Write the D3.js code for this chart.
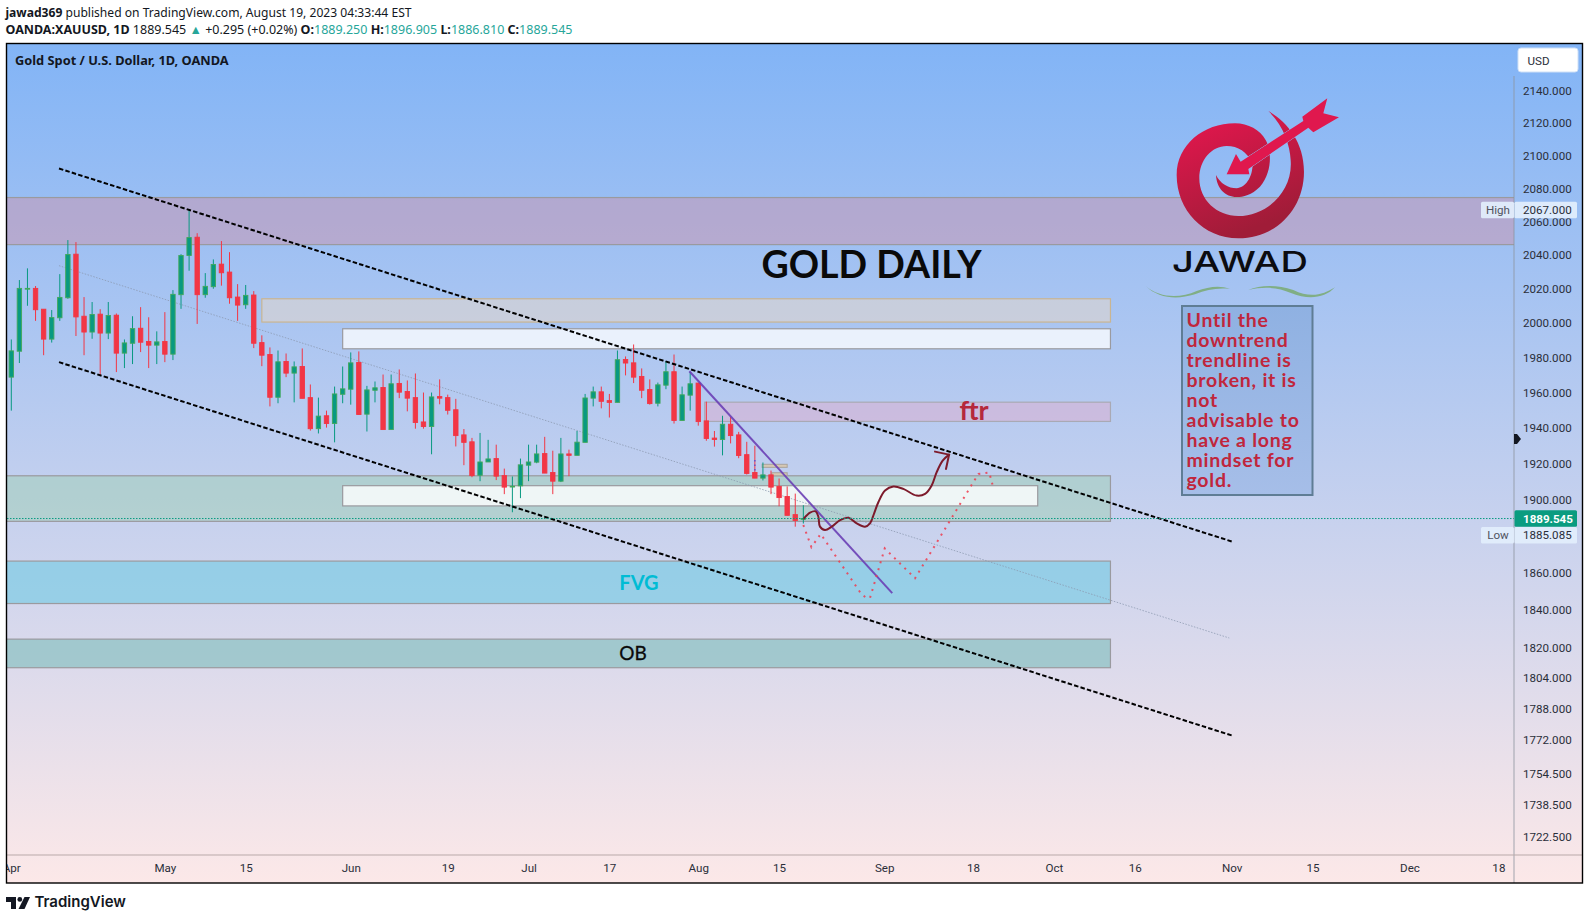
<!DOCTYPE html>
<html>
<head>
<meta charset="utf-8">
<title>XAUUSD</title>
<script src="https://cdn.jsdelivr.net/npm/d3@7"></script>
<style>
	html, body { margin: 0; background: #fff; overflow: hidden; }
	svg { display: block; }
	text { font-family: Roboto, sans-serif; }
	.head { font-family: "Noto Sans", sans-serif; fill: #131722; }
	.axisText text { font-size: 11.6px; fill: #2a2e39; }
</style>
</head>
<body>
<svg id="chart" width="1589" height="920"></svg>
<script>
// daily candles
const opens = [1968.9,1983.8,2020.2,2020.4,2008.2,1990.8,2003.2,2014.9,2040.6,2004.1,
	1994.9,2005.3,1994.3,2004.7,1982.7,1988.4,1997.1,1989.4,1987.3,1989.4,
	1982.1,2016.7,2039.8,2050.7,2016.7,2021.4,2034.7,2030,2015.3,2010.8,
	2016.5,1988.8,1981.9,1957.4,1977.9,1971.2,1975,1957.2,1939.6,1946.9,
	1942.5,1959.1,1962,1977.3,1947.8,1961.4,1963,1939.1,1965.3,1960.7,
	1957.2,1943.4,1940.8,1957.8,1957.2,1950.3,1936.1,1932.2,1913.5,1920.9,
	1922.8,1913.3,1907.1,1907.6,1919.1,1920.8,1925.6,1915,1910.2,1925.4,
	1924.6,1931.9,1956.9,1960.5,1955.5,1954.5,1979,1977.1,1969.3,1961.8,
	1954,1964.3,1972,1944.2,1958.6,1965.5,1944,1934.3,1933.5,1942.1,
	1936.1,1925,1915,1911.9,1913.7,1907.3,1901.7,1891.7,1889.25]
const highs = [1990.6,2025.3,2032.2,2021.8,2008.2,2007.7,2028.8,2049,2047.8,2015.3,
	2012.4,2008.2,2012.4,2005.7,1990.6,2004.1,2009.4,2003.5,1995.3,2006.5,
	2019.4,2040.6,2067,2053.1,2029.4,2037.5,2048.4,2041.8,2022.9,2022.4,
	2018.8,1993,1986,1984.2,1982.5,1977.9,1985.4,1964.7,1957.2,1949.8,
	1963.5,1975,1983.1,1983.7,1963.9,1966.4,1970.4,1970.4,1973.3,1967,
	1971,1960.1,1960.1,1967.6,1958.9,1956.5,1939.4,1934.4,1937.2,1933.3,
	1930.6,1917.2,1912.8,1922.8,1930.6,1930.6,1935,1927.2,1934.4,1927.8,
	1938.3,1959.3,1963.5,1963.5,1959.3,1984.2,1980.8,1987.7,1973.9,1967.6,
	1965.8,1978.1,1981.9,1963.5,1971.8,1965.7,1954.9,1938.3,1946.9,1946.3,
	1937.8,1932.2,1930,1920.6,1916.1,1911.7,1907.3,1903.3,1896.905]
const lows = [1949.8,1977,2010.2,2001.4,1981.5,1988.8,2001.4,2014.3,1992.6,1981.5,
	1991,1969.7,1990.8,1971.8,1974.1,1976.4,1983.3,1974.1,1976.4,1977.5,
	1978.7,2008.4,2030.8,1999.6,2014.9,2020.2,2022,2011.4,2001.4,2008.4,
	1985.6,1975.2,1952.2,1954,1968.9,1954.5,1956.8,1938.5,1936.9,1940.2,
	1931.9,1954,1953.2,1947.6,1938,1954.5,1939.1,1939.1,1956.9,1949.4,
	1939.6,1939.6,1925.2,1953.4,1947.6,1929.6,1919.1,1912.4,1910.2,1920.9,
	1910.8,1903,1893,1900.8,1910.2,1920.2,1914.7,1903,1909.7,1913,
	1924.6,1931.9,1952.2,1951.1,1945.9,1954.5,1969.9,1965.5,1956.9,1953.2,
	1952.2,1962,1942.5,1944.2,1949.8,1941.3,1932.8,1929.5,1924.6,1931.3,
	1923,1913.9,1911.9,1910.6,1903,1896.3,1891.3,1885.085,1886.81]
const closes = [1984,2020.4,2020.4,2007.9,1990.8,2003.3,2015.1,2040.4,2003.7,1994.9,
	2005.1,1994.3,2004.5,1982.7,1988.6,1996.9,1989,1987.3,1989.2,1982.1,
	2016.9,2039.8,2050.5,2016.7,2021.6,2034.5,2029.6,2014.9,2010.6,2016.3,
	1988.4,1981.5,1957.4,1977.7,1971.2,1974.8,1956.8,1939.6,1946.7,1942.5,
	1959.3,1962.2,1977.1,1947.6,1961.6,1962.8,1939.1,1965.1,1960.3,1956.9,
	1943.1,1940.8,1957.6,1956.9,1950,1935.7,1931.9,1913.3,1920.9,1922.6,
	1913,1906.9,1907.4,1919.3,1920.9,1925.4,1914.7,1910.2,1925.4,1924.6,
	1932,1957,1960.5,1955.1,1954.5,1978.9,1977,1968.9,1961.4,1953.8,
	1964.5,1972,1944.2,1958.8,1965.1,1943.6,1934.1,1933.5,1942.1,1935.7,
	1924.5,1914.5,1911.9,1913.7,1906.9,1901.1,1891.3,1888.5,1889.545]

const priceTicks = [2140,2120,2100,2080,2060,2040,2020,2000,1980,1960,1940,1920,1900,1860,1840,1820,1804,1788,1772,1754.5,1738.5,1722.5]
const timeTicks = [0,19,29,42,54,64,74,85,95,108,119,129,139,151,161,173,184]
const timeLabels = ['Apr','May','15','Jun','19','Jul','17','Aug','15','Sep','18','Oct','16','Nov','15','Dec','18']

// drawn zones: bar from, bar to, top price, bottom price, fill, border
const zoneBars = [[-2,186.6],[31,136],[41,136],[85.8,136],[-2,136],[41,127],[-2,136],[-2,136]]
const zonePrices = [[2074.5,2046.3],[2014.3,2000.7],[1996.8,1985.2],[1954.6,1943.7],[1913.2,1888],[1907.7,1896.5],[1866.3,1843.4],[1824.4,1809.3]]
const zoneFills = ['rgba(215,137,155,.4)','rgba(231,216,199,.5)','rgba(255,255,255,.75)','rgba(247,156,187,.3)','rgba(156,206,173,.45)','rgba(255,255,255,.8)','rgba(112,202,227,.6)','rgba(123,188,187,.6)']
const zoneBorders = ['#9a9a9f','#c9b592','#9a9a9f','#a9a9b4','#9a9a9f','#9a9a9f','#9a9a9f','#9a9a9f']
const tanBoxBars = [[92.9,96],[94.1,96]]
const tanBoxPrices = [[1919.6,1917.9],[1914.9,1913.2]]

// trend lines as [bar, price]
const channelTop = [[5.9,2092.1],[151,1877]]
const channelBottom = [[5.9,1977.5],[151,1774]]
const channelMiddle = [[5.9,2033.8],[150.7,1825]]
const purpleLine = [[83.9,1972.3],[109,1849]]
const purpleDots = [[92,1922],[92,1916]]
const redPath = [[98,1886],[99,1873.9],[100.15,1881.1],[105.22,1848.2],[105.84,1846.4],[106.25,1846.4],[108.07,1873.2],[111.82,1857],[119.65,1914.2],[121,1915],[121.4,1908.4]]
const curvePath = [[98.08,1889.6],[98.83,1892.8],[99.53,1893.5],[99.86,1890.5],[100.06,1885.1],[100.68,1883.3],[101.51,1885.1],[102.54,1888.7],[103.57,1890],[104.6,1886.9],[105.63,1885.1],[106.25,1886.9],[106.75,1892.3],[107.28,1898.5],[108.11,1905],[109.14,1907.2],[110.37,1905.9],[112.02,1902.2],[113.06,1903.1],[113.88,1907.8],[114.5,1915.2],[115.24,1921.6],[116.03,1925]]
const arrowHead = [[114.29,1926.7],[116.03,1925],[115.65,1917]]

const noteLines = ['Until the','downtrend','trendline is','broken, it is','not','advisable to','have a long','mindset for','gold.']

const plot = { left: 7, right: 1514, top: 44, bottom: 855, edge: 1582.5, end: 883 }
	, green = '#089981'
	, red = '#f23645'
	, svg = d3.select('#chart')
	, defs = svg.append('defs')

const x = d3.scaleLinear().domain([0, 184]).range([11.3, 11.3 + 8.082 * 184])
const y = d3.scaleLog().domain([1722.5, 2140]).range([836.7, 90.7])

const bg = defs.append('linearGradient').attr('id', 'bg').attr('x1', 0).attr('x2', 0).attr('y1', 0).attr('y2', 1)
bg.append('stop').attr('offset', 0).attr('stop-color', '#82b4f6')
bg.append('stop').attr('offset', 1).attr('stop-color', '#fce8e8')

const logoFill = defs.append('linearGradient').attr('id', 'logoFill').attr('x1', 0).attr('x2', .4).attr('y1', 0).attr('y2', 1)
logoFill.append('stop').attr('offset', 0).attr('stop-color', '#ea1650')
logoFill.append('stop').attr('offset', 1).attr('stop-color', '#a01c38')

const noteFill = defs.append('linearGradient').attr('id', 'noteFill').attr('x1', 0).attr('x2', 0).attr('y1', 0).attr('y2', 1)
noteFill.append('stop').attr('offset', 0).attr('stop-color', '#8fb1e2')
noteFill.append('stop').attr('offset', 1).attr('stop-color', '#a6bee8')

defs.append('clipPath').attr('id', 'plotClip').append('rect')
	.attr('x', plot.left).attr('y', plot.top).attr('width', plot.right - plot.left).attr('height', plot.bottom - plot.top)
defs.append('clipPath').attr('id', 'timeClip').append('rect')
	.attr('x', plot.left).attr('y', plot.bottom).attr('width', plot.right - plot.left).attr('height', plot.end - plot.bottom)

// header
const head1 = svg.append('text').attr('class', 'head').attr('x', 5.5).attr('y', 17).attr('font-size', 12.1)
head1.append('tspan').attr('font-weight', 700).text('jawad369')
head1.append('tspan').text(' published on TradingView.com, August 19, 2023 04:33:44 EST')

const head2 = svg.append('text').attr('class', 'head').attr('x', 5.5).attr('y', 34).attr('font-size', 12.5)
head2.append('tspan').attr('font-weight', 700).text('OANDA:XAUUSD, 1D')
head2.append('tspan').text(' 1889.545 ')
head2.append('tspan').style('fill', '#26a69a').text('▲')
head2.append('tspan').text(' +0.295 (+0.02%) ')
const ohlc = [['O:', '1889.250'], ['H:', '1896.905'], ['L:', '1886.810'], ['C:', '1889.545']]
ohlc.forEach(function (d) {
	head2.append('tspan').attr('font-weight', 700).text(d[0])
	head2.append('tspan').style('fill', '#26a69a').text(d[1] + ' ')
})

// pane background
svg.append('rect').attr('x', plot.left).attr('y', plot.top)
	.attr('width', plot.edge - plot.left).attr('height', plot.end - plot.top).attr('fill', 'url(#bg)')

const pane = svg.append('g').attr('clip-path', 'url(#plotClip)')

// zones
pane.selectAll('rect.zone').data(zoneBars).join('rect')
	.attr('class', 'zone')
	.attr('x', d => x(d[0]))
	.attr('width', d => x(d[1]) - x(d[0]))
	.attr('y', (d, i) => y(zonePrices[i][0]))
	.attr('height', (d, i) => y(zonePrices[i][1]) - y(zonePrices[i][0]))
	.attr('fill', (d, i) => zoneFills[i])
	.attr('stroke', (d, i) => zoneBorders[i])
	.attr('stroke-width', 1.2)

pane.selectAll('rect.tan').data(tanBoxBars).join('rect')
	.attr('class', 'tan')
	.attr('x', d => x(d[0]))
	.attr('width', d => x(d[1]) - x(d[0]))
	.attr('y', (d, i) => y(tanBoxPrices[i][0]))
	.attr('height', (d, i) => y(tanBoxPrices[i][1]) - y(tanBoxPrices[i][0]))
	.attr('fill', '#d6c8b4')
	.attr('stroke', '#a9a39b')

const lineGen = d3.line().x(d => x(d[0])).y(d => y(d[1]))

pane.append('path').attr('d', lineGen(channelMiddle)).attr('fill', 'none')
	.attr('stroke', '#8a97ad').attr('stroke-opacity', .75).attr('stroke-width', 1).attr('stroke-dasharray', '1.5 1.5')

// candles
const candles = pane.selectAll('g.candle').data(opens).join('g').attr('class', 'candle')
candles.append('line')
	.attr('x1', (d, i) => x(i)).attr('x2', (d, i) => x(i))
	.attr('y1', (d, i) => y(highs[i])).attr('y2', (d, i) => y(lows[i]))
	.attr('stroke', (d, i) => closes[i] >= d ? green : red)
	.attr('stroke-width', 1)
candles.append('rect')
	.attr('x', (d, i) => x(i) - 2.2)
	.attr('width', 4.4)
	.attr('y', (d, i) => y(Math.max(d, closes[i])))
	.attr('height', (d, i) => Math.max(.8, Math.abs(y(d) - y(closes[i]))))
	.attr('fill', (d, i) => closes[i] >= d ? green : red)
	.attr('stroke', (d, i) => closes[i] >= d ? '#43a85a' : red)
	.attr('stroke-width', .9)

// trend lines and the drawn paths
pane.append('path').attr('d', lineGen(channelTop)).attr('fill', 'none')
	.attr('stroke', '#000').attr('stroke-width', 2).attr('stroke-dasharray', '4.5 2.2')
pane.append('path').attr('d', lineGen(channelBottom)).attr('fill', 'none')
	.attr('stroke', '#000').attr('stroke-width', 2).attr('stroke-dasharray', '4.5 2.2')
pane.append('path').attr('d', lineGen(purpleLine)).attr('fill', 'none')
	.attr('stroke', '#6a3fb5').attr('stroke-opacity', .9).attr('stroke-width', 2)
pane.append('path').attr('d', lineGen(purpleDots)).attr('fill', 'none')
	.attr('stroke', '#5a4fd0').attr('stroke-width', 1.4).attr('stroke-dasharray', '1.5 3')
pane.append('path').attr('d', lineGen(redPath)).attr('fill', 'none')
	.attr('stroke', '#ee3b4d').attr('stroke-opacity', .85).attr('stroke-width', 2).attr('stroke-dasharray', '2 5.2')
pane.append('path').attr('d', lineGen.curve(d3.curveCatmullRom)(curvePath)).attr('fill', 'none')
	.attr('stroke', '#7d1a2b').attr('stroke-width', 2).attr('stroke-linecap', 'round')
lineGen.curve(d3.curveLinear)
pane.append('path').attr('d', lineGen(arrowHead)).attr('fill', 'none')
	.attr('stroke', '#7d1a2b').attr('stroke-width', 2).attr('stroke-linecap', 'round')

// last price line
pane.append('line').attr('x1', plot.left).attr('x2', plot.right).attr('y1', y(1889.545)).attr('y2', y(1889.545))
	.attr('stroke', green).attr('stroke-width', 1).attr('stroke-dasharray', '1.5 1.5')

// labels on the chart
svg.append('text').attr('x', 15).attr('y', 65).attr('font-size', 12.8).attr('font-weight', 700)
	.style('font-family', '"Noto Sans", sans-serif').attr('fill', '#131722').text('Gold Spot / U.S. Dollar, 1D, OANDA')

const label = function (txt, cx, base, size, color) {
	return svg.append('text').attr('x', cx).attr('y', base).attr('text-anchor', 'middle')
		.attr('font-size', size).attr('font-weight', 700).style('font-family', 'Lato, sans-serif').attr('fill', color).text(txt)
}
label('GOLD DAILY', 871.5, 278.3, 37.6, '#0a0a0a')
label('ftr', 974, 420, 27, '#b5283c')
label('FVG', 639, 590, 20, '#00bcd4')
label('OB', 633, 660, 19, '#0a0a0a').attr('font-weight', 400).attr('stroke', '#0a0a0a').attr('stroke-width', .3)

// note box
svg.append('rect').attr('x', 1182).attr('y', 306).attr('width', 130.5).attr('height', 189)
	.attr('fill', 'url(#noteFill)').attr('stroke', '#5f7d95').attr('stroke-width', 2)
svg.append('g').selectAll('text').data(noteLines).join('text')
	.attr('x', 1186.5)
	.attr('y', (d, i) => 326.7 + i * 20)
	.attr('font-size', 19.5)
	.attr('font-weight', 700)
	.attr('letter-spacing', .75)
	.style('font-family', 'Lato, sans-serif')
	.attr('fill', '#c0263c')
	.text(d => d)

// logo, traced in crop coordinates
const logo = svg.append('g').attr('transform', 'translate(1120,85) scale(0.3333)')
logo.append('path').attr('fill', 'url(#logoFill)')
	.attr('d', 'M445,78 C500,110 552,170 552,260 C552,370 470,460 355,460 C250,460 170,375 170,270 C170,180 250,115 345,115 C385,115 420,135 437,165 C455,195 458,260 420,305 C395,330 370,336 350,336 C315,336 290,310 288,270 C300,295 325,310 350,310 C375,308 398,280 398,235 C380,200 355,183 320,183 C275,183 238,225 238,280 C238,345 290,393 355,393 C440,393 520,320 512,225 C510,180 490,120 445,78Z')
logo.append('path').attr('fill', '#e0184e').attr('stroke', '#92bbf3').attr('stroke-width', 3).style('paint-order', 'stroke')
	.attr('d', 'M320,268 L348,207 L362,230 L550,108 L547,95 L622,40 L610,85 L657,97 L580,142 L565,128 L385,252 L388,268Z')
logo.append('path').attr('fill', '#80ae85')
	.attr('d', 'M77,603 C120,640 180,640 230,618 C265,605 300,600 330,612 C290,608 260,615 225,628 C170,645 115,640 77,603Z')
logo.append('path').attr('fill', '#80ae85')
	.attr('d', 'M385,615 C420,600 470,598 520,615 C570,640 610,630 645,607 C615,640 565,645 515,625 C470,605 430,605 385,615Z')
svg.append('text').attr('x', 1172).attr('y', 271.7).attr('textLength', 136).attr('lengthAdjust', 'spacingAndGlyphs')
	.attr('font-size', 29).attr('font-weight', 500).style('font-family', 'Inter, sans-serif').attr('fill', '#0c0c10').text('JAWAD')

// axes
const priceAxis = d3.axisRight(y).tickValues(priceTicks).tickFormat(d3.format('.3f')).tickSize(0).tickPadding(9)
svg.append('g').attr('class', 'axisText').attr('transform', `translate(${plot.right},0)`).call(priceAxis)
	.call(g => g.select('.domain').remove())

const timeAxis = d3.axisBottom(x).tickValues(timeTicks).tickFormat((d, i) => timeLabels[i]).tickSize(0).tickPadding(9)
svg.append('g').attr('clip-path', 'url(#timeClip)').append('g').attr('class', 'axisText')
	.attr('transform', `translate(0,${plot.bottom})`).call(timeAxis)
	.call(g => g.select('.domain').remove())

svg.append('line').attr('x1', plot.right).attr('x2', plot.right).attr('y1', 76).attr('y2', plot.end)
	.attr('stroke', '#8d949e').attr('stroke-opacity', .8)
svg.append('line').attr('x1', plot.left).attr('x2', plot.edge).attr('y1', plot.bottom).attr('y2', plot.bottom)
	.attr('stroke', '#b9a9a9')

// price badges, shift moves a badge off its neighbour
const badge = function (side, price, fill, color, weight, shift) {
	const cy = y(price) + shift
	svg.append('rect').attr('x', plot.right + .5).attr('y', cy - 8.3).attr('width', 62.5).attr('height', 16.6).attr('rx', 1.5).attr('fill', fill)
	svg.append('text').attr('x', plot.right + 9).attr('y', cy + 4.2).attr('font-size', 11.6).attr('font-weight', weight)
		.attr('fill', color).text(d3.format('.3f')(price))
	if (side) {
		svg.append('rect').attr('x', plot.right - 33).attr('y', cy - 8.3).attr('width', 33).attr('height', 16.6).attr('rx', 1.5).attr('fill', fill)
		svg.append('text').attr('x', plot.right - 16).attr('y', cy + 4.2).attr('text-anchor', 'middle').attr('font-size', 11.6)
			.attr('fill', '#50535e').text(side)
	}
}
badge('High', 2067, 'rgba(226,238,252,.93)', '#2a2e39', 400, 0)
badge('Low', 1885.085, 'rgba(226,238,252,.93)', '#2a2e39', 400, 8.6)
badge('', 1889.545, '#0a9c80', '#fff', 700, 0)

svg.append('path').attr('d', d3.line()([[plot.right, 434], [plot.right + 3, 434], [plot.right + 7, 439], [plot.right + 3, 444], [plot.right, 444]]) + 'Z').attr('fill', '#131722')

// USD box
svg.append('rect').attr('x', 1518).attr('y', 48).attr('width', 60).attr('height', 24).attr('rx', 3)
	.attr('fill', '#fff').attr('stroke', '#cfe0f6')
svg.append('text').attr('x', 1527.5).attr('y', 64.5).attr('font-size', 11.6).attr('fill', '#2a2e39').text('USD')

// frame
svg.append('rect').attr('x', plot.left - .5).attr('y', 43.5).attr('width', plot.edge - plot.left + .5).attr('height', plot.end - 43.5)
	.attr('fill', 'none').attr('stroke', '#000').attr('stroke-width', 1.4)

// footer logo
const brand = svg.append('g').attr('fill', '#131722')
brand.append('path').attr('d', 'M6,897 H16 V909 H11 V902 H6 Z')
brand.append('circle').attr('cx', 19.8).attr('cy', 899.4).attr('r', 2.4)
brand.append('path').attr('d', 'M24.5,897 H30 L24.5,909 H18.5 Z')
svg.append('text').attr('x', 34.5).attr('y', 907).attr('font-size', 15).attr('font-weight', 600)
	.style('font-family', 'Inter, sans-serif').attr('fill', '#131722').text('TradingView')
</script>
</body>
</html>
